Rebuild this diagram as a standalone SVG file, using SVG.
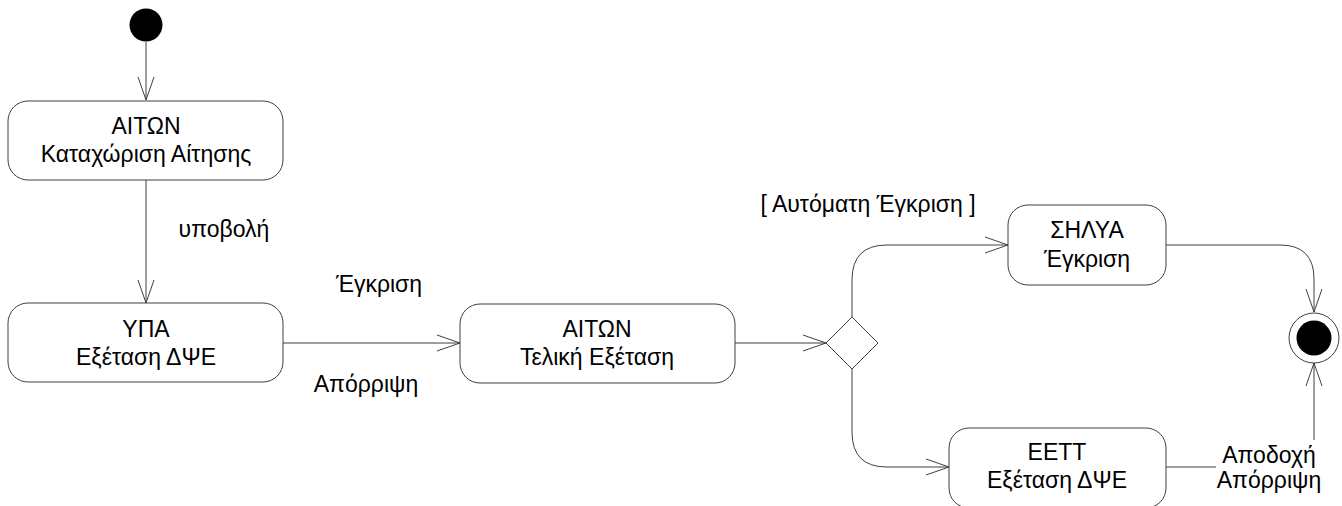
<svg xmlns="http://www.w3.org/2000/svg" width="1342" height="506" viewBox="0 0 1342 506">
<defs>
<style>
.node{fill:#fff;stroke:#404040;stroke-width:1}
.conn{fill:none;stroke:#404040;stroke-width:1}
text{font-family:"Liberation Sans",Arial,sans-serif;font-size:23px;fill:#000}
.c{text-anchor:middle}
</style>
<marker id="arr" markerUnits="userSpaceOnUse" markerWidth="30" markerHeight="20" viewBox="-25 -10 30 20" refX="0" refY="0" orient="auto">
<path d="M-23,-8 L0,0 L-23,8" fill="none" stroke="#404040" stroke-width="1"/>
</marker>
</defs>
<rect width="1342" height="506" fill="#fff"/>
<g id="connectors">
<path class="conn" d="M146,42 V100" marker-end="url(#arr)"/>
<path class="conn" d="M146,180 V303" marker-end="url(#arr)"/>
<path class="conn" d="M283,343 H460" marker-end="url(#arr)"/>
<path class="conn" d="M735,343 H826" marker-end="url(#arr)"/>
<path class="conn" d="M852,317 V280 Q852,245 887,245 H1008" marker-end="url(#arr)"/>
<path class="conn" d="M852,369 V432 Q852,467 887,467 H949" marker-end="url(#arr)"/>
<path class="conn" d="M1166,245 H1280 Q1314,245 1314,279 V312" marker-end="url(#arr)"/>
<path class="conn" d="M1166,467 H1290 Q1314,467 1314,443 V363" marker-end="url(#arr)"/>
<text x="224" y="237" class="c">υποβολή</text>
<text x="379" y="292" class="c">Έγκριση</text>
<text x="366" y="392" class="c">Απόρριψη</text>
<text x="868" y="212" class="c">[ Αυτόματη Έγκριση ]</text>
<rect x="1216" y="440" width="106" height="54" fill="#fff"/>
<text x="1269" y="463" class="c">Αποδοχή</text>
<text x="1269" y="488" class="c">Απόρριψη</text>
</g>
<g id="start"><circle cx="146" cy="25" r="16.5" fill="#000"/></g>
<g id="n1"><rect class="node" x="8" y="101" width="275" height="79" rx="20"/>
<text x="146" y="134" class="c">ΑΙΤΩΝ</text><text x="146" y="162" class="c">Καταχώριση Αίτησης</text></g>
<g id="n2"><rect class="node" x="8" y="303" width="275" height="79" rx="20"/>
<text x="146" y="337" class="c">ΥΠΑ</text><text x="146" y="365" class="c">Εξέταση ΔΨΕ</text></g>
<g id="n3"><rect class="node" x="460" y="304" width="275" height="79" rx="20"/>
<text x="597" y="337" class="c">ΑΙΤΩΝ</text><text x="597" y="365" class="c">Τελική Εξέταση</text></g>
<g id="decision"><polygon class="node" points="852,317 878,343 852,369 826,343"/></g>
<g id="n4"><rect class="node" x="1008" y="205" width="158" height="80" rx="20"/>
<text x="1087" y="238" class="c">ΣΗΛΥΑ</text><text x="1087" y="267" class="c">Έγκριση</text></g>
<g id="n5"><rect class="node" x="949" y="428" width="217" height="80" rx="20"/>
<text x="1057" y="460" class="c">ΕΕΤΤ</text><text x="1057" y="488" class="c">Εξέταση ΔΨΕ</text></g>
<g id="end"><circle cx="1314" cy="338" r="25" fill="#fff" stroke="#404040" stroke-width="1"/><circle cx="1314" cy="338" r="17.5" fill="#000"/></g>
</svg>
